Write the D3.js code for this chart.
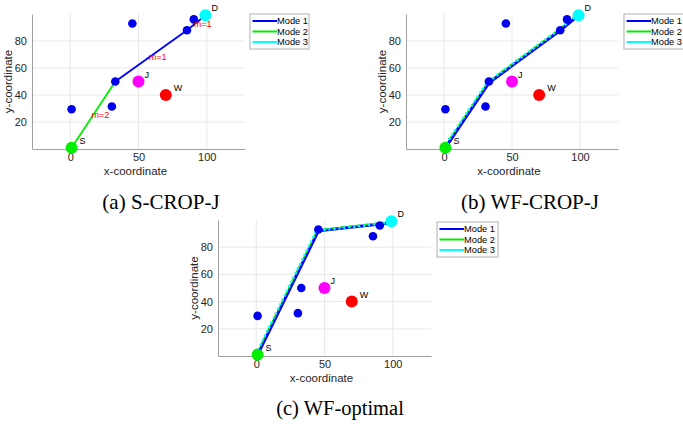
<!DOCTYPE html>
<html>
<head>
<meta charset="utf-8">
<script src="https://cdn.jsdelivr.net/npm/d3@7"></script>
<style>
body { margin: 0; background: #fff; }
svg { display: block; }
</style>
</head>
<body>
<div id="chart"></div>
<script>
var svgWidth = 683;
var svgHeight = 428;

// nodes shared by all three panels
var relayX = [1, 30.5, 33, 45.5, 85.5, 90.5];
var relayY = [29.5, 31.5, 50, 93, 88, 96];
var specialNames = ["S", "D", "J", "W"];
var specialX = [1, 99, 50, 70];
var specialY = [1, 99, 50, 40];
var specialColors = ["#00ee00", "#00ffff", "#ff00ff", "#ff0000"];

var xTicks = [0, 50, 100];
var yTicks = [20, 40, 60, 80];
var modeNames = ["Mode 1", "Mode 2", "Mode 3"];
var modeColors = ["#0000ff", "#00ee00", "#00ffff"];

// (a) S-CROP-J route segments
var aGreenX = [1, 33];
var aGreenY = [1, 50];
var aBlueX = [33, 85.5, 99];
var aBlueY = [50, 88, 99];
var aLabels = ["m=2", "m=1", "m=1"];
var aLabelX = [22, 64, 97];
var aLabelY = [25, 68, 93];

// (b) WF-CROP-J route
var bRouteX = [1, 33, 85.5, 99];
var bRouteY = [1, 49, 88, 99];

// (c) WF-optimal route
var cRouteX = [1, 45.5, 99];
var cRouteY = [1, 92, 98];

var svg = d3.select("#chart").append("svg")
    .attr("width", svgWidth)
    .attr("height", svgHeight);

function zip(xs, ys) { return xs.map((x, i) => [x, ys[i]]); }

function drawPanel(p) {
    var xScale = d3.scaleLinear().domain([-28, 128]).range([p.left, p.right]);
    var yScale = d3.scaleLinear().domain([0, 100]).range([p.bottom, p.top]);
    var g = svg.append("g");

    // grid
    g.selectAll(".gx").data(xTicks).enter().append("line")
        .attr("x1", d => xScale(d)).attr("x2", d => xScale(d))
        .attr("y1", p.top).attr("y2", p.bottom)
        .attr("stroke", "#e8e8e8").attr("stroke-width", 1);
    g.selectAll(".gy").data(yTicks).enter().append("line")
        .attr("x1", p.left).attr("x2", p.right)
        .attr("y1", d => yScale(d)).attr("y2", d => yScale(d))
        .attr("stroke", "#e8e8e8").attr("stroke-width", 1);

    var xAxis = g.append("g")
        .attr("transform", `translate(0,${p.bottom})`)
        .call(d3.axisBottom(xScale).tickValues(xTicks).tickSize(0).tickPadding(4));
    var yAxis = g.append("g")
        .attr("transform", `translate(${p.left},0)`)
        .call(d3.axisLeft(yScale).tickValues(yTicks).tickSize(0).tickPadding(5));
    [xAxis, yAxis].forEach(a => {
        a.select(".domain").attr("stroke", "#a0a0a0");
        a.selectAll("text").attr("fill", "#262626")
            .attr("font-family", "Liberation Sans, Arial, sans-serif")
            .attr("font-size", "11px");
    });

    g.append("text")
        .attr("x", (p.left + p.right) / 2 - 3)
        .attr("y", p.bottom + 26)
        .attr("text-anchor", "middle")
        .attr("font-family", "Liberation Sans, Arial, sans-serif")
        .attr("font-size", "11.5px")
        .attr("fill", "#262626")
        .text("x-coordinate");
    g.append("text")
        .attr("transform", `translate(${p.left - 20},${(p.top + p.bottom) / 2}) rotate(-90)`)
        .attr("text-anchor", "middle")
        .attr("font-family", "Liberation Sans, Arial, sans-serif")
        .attr("font-size", "11.5px")
        .attr("fill", "#262626")
        .text("y-coordinate");

    var line = d3.line().x(d => xScale(d[0])).y(d => yScale(d[1]));

    // routes
    p.routes.forEach(r => {
        g.append("path").datum(r.pts)
            .attr("d", line)
            .attr("fill", "none")
            .attr("stroke", r.color)
            .attr("stroke-width", r.width)
            .attr("stroke-dasharray", r.dash || null)
            .attr("transform", r.shift ? `translate(${r.shift[0]},${r.shift[1]})` : null);
    });

    // relay nodes
    g.selectAll(".relay").data(zip(relayX, relayY)).enter().append("circle")
        .attr("cx", d => xScale(d[0])).attr("cy", d => yScale(d[1]))
        .attr("r", 4.3).attr("fill", "#0000ee");

    // S, D, J, W
    var sp = specialNames.map((n, i) => ({ n: n, x: specialX[i], y: specialY[i], c: specialColors[i] }));
    g.selectAll(".sp").data(sp).enter().append("circle")
        .attr("cx", d => xScale(d.x)).attr("cy", d => yScale(d.y))
        .attr("r", 6).attr("fill", d => d.c);
    g.selectAll(".spl").data(sp).enter().append("text")
        .attr("x", d => xScale(d.x) + (d.n == "S" || d.n == "W" ? 8 : 6))
        .attr("y", d => yScale(d.y) - 4)
        .attr("font-family", "Liberation Sans, Arial, sans-serif")
        .attr("font-size", "9px")
        .attr("fill", "#000")
        .text(d => d.n);

    if (p.labels) {
        g.selectAll(".ml").data(p.labels).enter().append("text")
            .attr("x", d => xScale(d.x)).attr("y", d => yScale(d.y))
            .attr("dy", "0.35em")
            .attr("text-anchor", "middle")
            .attr("font-family", "Liberation Sans, Arial, sans-serif")
            .attr("font-size", "9px")
            .attr("fill", "#ff0000")
            .text(d => d.t);
    }

    // legend
    var lg = svg.append("g").attr("transform", `translate(${p.legX},${p.legY})`);
    lg.append("rect").attr("x", 0).attr("y", 0)
        .attr("width", p.legW).attr("height", 35)
        .attr("fill", "#fff").attr("stroke", "#b0b0b0").attr("stroke-width", 1);
    modeNames.forEach((m, i) => {
        lg.append("line").attr("x1", 2.5).attr("x2", 27)
            .attr("y1", 7 + i * 10.5).attr("y2", 7 + i * 10.5)
            .attr("stroke", modeColors[i]).attr("stroke-width", 2);
        lg.append("text").attr("x", 27).attr("y", 7 + i * 10.5)
            .attr("dy", "0.35em")
            .attr("font-family", "Liberation Sans, Arial, sans-serif")
            .attr("font-size", "9.3px")
            .attr("fill", "#000")
            .text(m);
    });

    svg.append("text")
        .attr("x", p.capX).attr("y", p.capY)
        .attr("text-anchor", "middle")
        .attr("font-family", "Liberation Serif, Times New Roman, serif")
        .attr("font-size", p.capSize)
        .attr("fill", "#000")
        .text(p.caption);
}

function modeRoutes(xs, ys) {
    var pts = zip(xs, ys);
    return [
        { pts: pts, color: modeColors[0], width: 3 },
        { pts: pts, color: modeColors[1], width: 1.5, dash: "5,3", shift: [-1, -1] },
        { pts: pts, color: modeColors[2], width: 2.5, dash: "2,3", shift: [-2, 0] }
    ];
}

drawPanel({
    left: 32, right: 245, top: 14, bottom: 149,
    routes: [
        { pts: zip(aGreenX, aGreenY), color: modeColors[1], width: 1.8 },
        { pts: zip(aBlueX, aBlueY), color: modeColors[0], width: 1.8 }
    ],
    labels: aLabels.map((t, i) => ({ t: t, x: aLabelX[i], y: aLabelY[i] })),
    legX: 250, legY: 14, legW: 59,
    capX: 161, capY: 209, capSize: "21px", caption: "(a) S-CROP-J"
});

drawPanel({
    left: 406, right: 618, top: 14, bottom: 149,
    routes: modeRoutes(bRouteX, bRouteY),
    legX: 624, legY: 14, legW: 62,
    capX: 530, capY: 209, capSize: "21px", caption: "(b) WF-CROP-J"
});

drawPanel({
    left: 218, right: 431, top: 220, bottom: 356,
    routes: modeRoutes(cRouteX, cRouteY),
    legX: 437, legY: 222, legW: 61,
    capX: 340, capY: 415, capSize: "20.5px", caption: "(c) WF-optimal"
});
</script>
</body>
</html>
